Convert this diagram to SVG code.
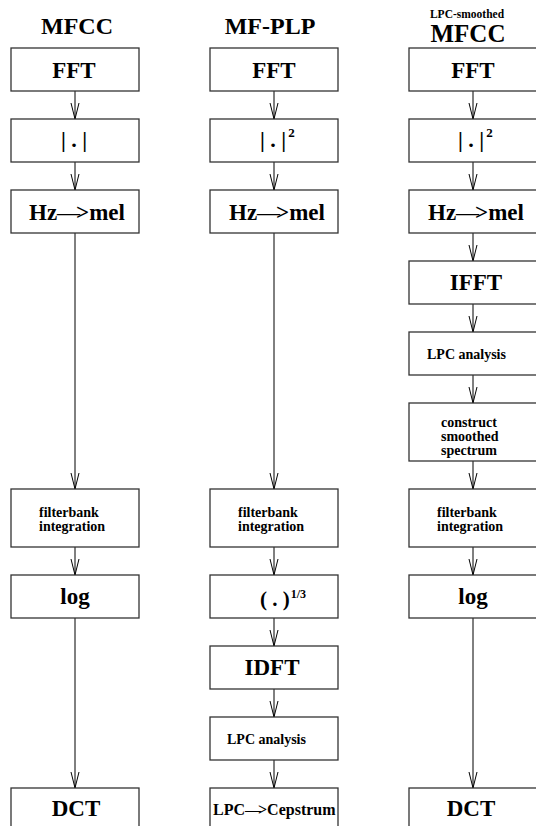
<svg xmlns="http://www.w3.org/2000/svg" width="536" height="826" viewBox="0 0 536 826">
<defs>
<marker id="ah" markerUnits="userSpaceOnUse" markerWidth="20" markerHeight="12" viewBox="0 0 20 10" refX="16" refY="5" orient="auto">
<path d="M0,1 L16,5 L0,9" fill="none" stroke="#000" stroke-width="1"/>
</marker>
<style>
rect.b{fill:#fff;stroke:#333;stroke-width:1.3}
text{font-family:"Liberation Serif","Times New Roman",serif;font-weight:bold;fill:#000}
.t{font-size:24px;text-anchor:middle}
.big{font-size:23px;text-anchor:middle}
.sm{font-size:14px}
.dash{font-weight:normal;letter-spacing:-4px}
.c line{stroke:#000;stroke-width:1;marker-end:url(#ah)}
</style>
</defs>
<rect width="536" height="826" fill="#fff"/>
<g id="titles">
<text class="t" x="77" y="34">MFCC</text>
<text class="t" x="270" y="34">MF-PLP</text>
<text x="467" y="18" style="font-size:11.5px;text-anchor:middle">LPC-smoothed</text>
<text class="t" x="468" y="42" style="font-size:25px">MFCC</text>
</g>
<g class="c" id="connectors">
<line x1="75" y1="91" x2="75" y2="119"/>
<line x1="75" y1="162" x2="75" y2="190"/>
<line x1="75" y1="233" x2="75" y2="489"/>
<line x1="75" y1="547" x2="75" y2="575"/>
<line x1="75" y1="618" x2="75" y2="788"/>
<line x1="274" y1="91" x2="274" y2="119"/>
<line x1="274" y1="162" x2="274" y2="190"/>
<line x1="274" y1="233" x2="274" y2="489"/>
<line x1="274" y1="547" x2="274" y2="575"/>
<line x1="274" y1="618" x2="274" y2="646"/>
<line x1="274" y1="689" x2="274" y2="717"/>
<line x1="274" y1="760" x2="274" y2="788"/>
<line x1="473" y1="91" x2="473" y2="119"/>
<line x1="473" y1="162" x2="473" y2="190"/>
<line x1="473" y1="233" x2="473" y2="261"/>
<line x1="473" y1="304" x2="473" y2="332"/>
<line x1="473" y1="375" x2="473" y2="403"/>
<line x1="473" y1="461" x2="473" y2="489"/>
<line x1="473" y1="547" x2="473" y2="575"/>
<line x1="473" y1="618" x2="473" y2="788"/>
</g>
<!-- column 1: MFCC -->
<g id="mfcc-fft"><rect class="b" x="11" y="48" width="128" height="43"/><text class="big" x="74" y="77.5">FFT</text></g>
<g id="mfcc-abs"><rect class="b" x="11" y="119" width="128" height="43"/><text class="big" x="74" y="147" style="font-size:22px">| . |</text></g>
<g id="mfcc-mel"><rect class="b" x="11" y="190" width="128" height="43"/><text class="big" x="77" y="219.5">Hz<tspan class="dash">—</tspan>&gt;mel</text></g>
<g id="mfcc-fb"><rect class="b" x="11" y="489" width="128" height="58"/><text class="sm" x="39" y="517">filterbank</text><text class="sm" x="39" y="531">integration</text></g>
<g id="mfcc-log"><rect class="b" x="11" y="575" width="128" height="43"/><text class="big" x="75" y="604">log</text></g>
<g id="mfcc-dct"><rect class="b" x="11" y="788" width="128" height="43"/><text class="big" x="76" y="816">DCT</text></g>
<!-- column 2: MF-PLP -->
<g id="plp-fft"><rect class="b" x="210" y="48" width="128" height="43"/><text class="big" x="274" y="77.5">FFT</text></g>
<g id="plp-abs2"><rect class="b" x="210" y="119" width="128" height="43"/><text x="260" y="147" style="font-size:22px">| . |<tspan dx="2" dy="-10" style="font-size:13px">2</tspan></text></g>
<g id="plp-mel"><rect class="b" x="210" y="190" width="128" height="43"/><text class="big" x="277" y="219.5">Hz<tspan class="dash">—</tspan>&gt;mel</text></g>
<g id="plp-fb"><rect class="b" x="210" y="489" width="128" height="58"/><text class="sm" x="238" y="517">filterbank</text><text class="sm" x="238" y="531">integration</text></g>
<g id="plp-cube"><rect class="b" x="210" y="575" width="128" height="43"/><text x="260" y="606" style="font-size:21px">( . )<tspan dx="1" dy="-8" style="font-size:12px">1/3</tspan></text></g>
<g id="plp-idft"><rect class="b" x="210" y="646" width="128" height="43"/><text class="big" x="272" y="675">IDFT</text></g>
<g id="plp-lpc"><rect class="b" x="210" y="717" width="128" height="43"/><text class="sm" x="227" y="744">LPC analysis</text></g>
<g id="plp-cep"><rect class="b" x="210" y="788" width="128" height="43"/><text x="213" y="815" style="font-size:16px">LPC<tspan class="dash" style="letter-spacing:-3px">—</tspan>&gt;Cepstrum</text></g>
<!-- column 3: LPC-smoothed MFCC -->
<g id="lsm-fft"><rect class="b" x="409" y="48" width="128" height="43"/><text class="big" x="473" y="77.5">FFT</text></g>
<g id="lsm-abs2"><rect class="b" x="409" y="119" width="128" height="43"/><text x="458" y="147" style="font-size:22px">| . |<tspan dx="2" dy="-10" style="font-size:13px">2</tspan></text></g>
<g id="lsm-mel"><rect class="b" x="409" y="190" width="128" height="43"/><text class="big" x="476" y="219.5">Hz<tspan class="dash">—</tspan>&gt;mel</text></g>
<g id="lsm-ifft"><rect class="b" x="409" y="261" width="128" height="43"/><text class="big" x="476" y="290">IFFT</text></g>
<g id="lsm-lpc"><rect class="b" x="409" y="332" width="128" height="43"/><text class="sm" x="427" y="359">LPC analysis</text></g>
<g id="lsm-smooth"><rect class="b" x="409" y="403" width="128" height="58"/><text class="sm" x="441" y="427">construct</text><text class="sm" x="441" y="441">smoothed</text><text class="sm" x="441" y="455">spectrum</text></g>
<g id="lsm-fb"><rect class="b" x="409" y="489" width="128" height="58"/><text class="sm" x="437" y="517">filterbank</text><text class="sm" x="437" y="531">integration</text></g>
<g id="lsm-log"><rect class="b" x="409" y="575" width="128" height="43"/><text class="big" x="473" y="604">log</text></g>
<g id="lsm-dct"><rect class="b" x="409" y="788" width="128" height="43"/><text class="big" x="471" y="816">DCT</text></g>
</svg>
